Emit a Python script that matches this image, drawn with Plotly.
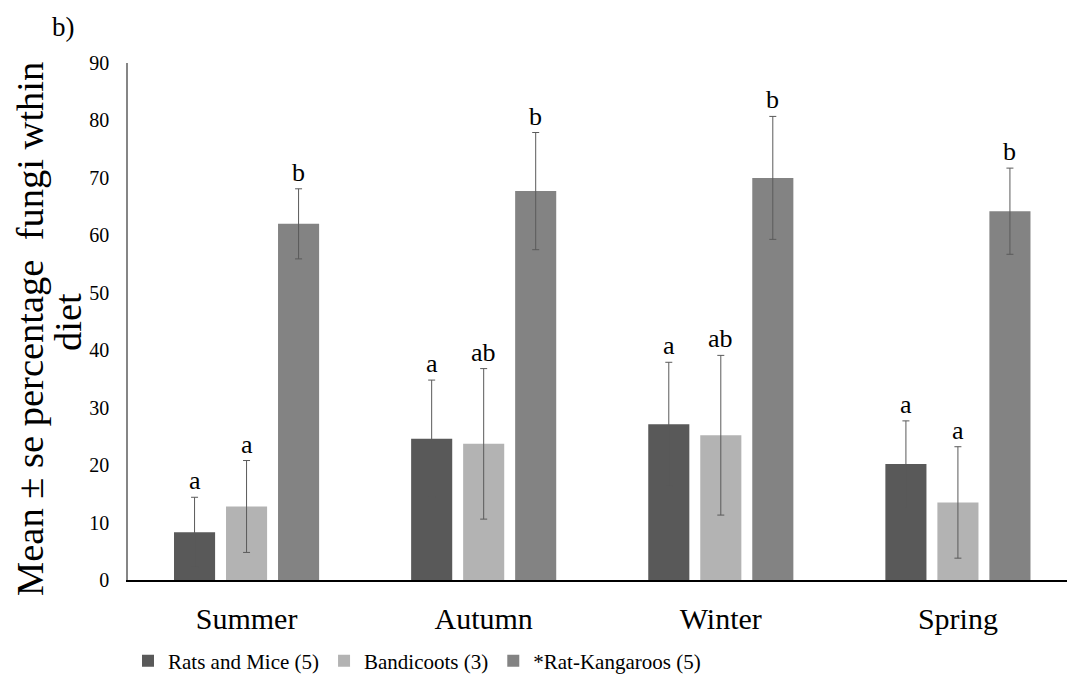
import plotly.graph_objects as go

seasons = ["Summer", "Autumn", "Winter", "Spring"]
series_names = ["Rats and Mice (5)", "Bandicoots (3)", "*Rat-Kangaroos (5)"]
rats_mean = [8.3, 24.6, 27.1, 20.2]
rats_se = [6.1, 10.2, 10.8, 7.5]
band_mean = [12.8, 23.7, 25.2, 13.5]
band_se = [8.0, 13.1, 13.9, 9.7]
rk_mean = [62.0, 67.7, 70.0, 64.2]
rk_se = [6.1, 10.2, 10.7, 7.5]
rats_letters = ["a", "a", "a", "a"]
band_letters = ["a", "ab", "ab", "a"]
rk_letters = ["b", "b", "b", "b"]
y_ticks = [0, 10, 20, 30, 40, 50, 60, 70, 80, 90]
y_title_line1 = "Mean ± se percentage  fungi wthin"
y_title_line2 = "diet"
panel_label = "b)"

colors = ["#595959", "#b3b3b3", "#838383"]
means = [rats_mean, band_mean, rk_mean]
ses = [rats_se, band_se, rk_se]
letters = [rats_letters, band_letters, rk_letters]

SERIF = "Liberation Serif, Times New Roman, serif"
BARGAP = 0.342
GROUPGAP = 0.21

# plot area in pixels
W, H = 1067, 684
L, R, T, B = 128, 0, 63, 104
PW, PH = W - L - R, H - T - B


def px_x(x):
    return (x - L) / PW


def px_y(y):
    return (H - B - y) / PH


fig = go.Figure()
for name, m, s, c in zip(series_names, means, ses, colors):
    fig.add_trace(go.Bar(
        x=seasons, y=m, name=name,
        marker=dict(color=c, line=dict(width=0)),
        error_y=dict(type="data", array=s, visible=True,
                     color="#5a5a5a", thickness=1, width=3.5),
    ))

slot = (1 - BARGAP) / 3
for j, (m, s, lab) in enumerate(zip(means, ses, letters)):
    for i in range(len(seasons)):
        fig.add_annotation(
            x=i + (j - 1) * slot, y=m[i] + s[i], xref="x", yref="y",
            text=lab[i], showarrow=False, yanchor="bottom", yshift=0,
            font=dict(family=SERIF, size=26, color="#000000"),
        )

fig.add_annotation(
    x=px_x(63), y=px_y(27), xref="paper", yref="paper", text=panel_label,
    showarrow=False, xanchor="center", yanchor="middle",
    font=dict(family=SERIF, size=27, color="#000000"),
)
fig.add_annotation(
    x=px_x(30), y=px_y(329), xref="paper", yref="paper", text=y_title_line1,
    showarrow=False, xanchor="center", yanchor="middle", textangle=-90,
    font=dict(family=SERIF, size=38.5, color="#000000"),
)
fig.add_annotation(
    x=px_x(68), y=px_y(322), xref="paper", yref="paper", text=y_title_line2,
    showarrow=False, xanchor="center", yanchor="middle", textangle=-90,
    font=dict(family=SERIF, size=38.5, color="#000000"),
)

fig.update_layout(
    width=W, height=H,
    margin=dict(l=L, r=R, t=T, b=B),
    paper_bgcolor="white", plot_bgcolor="white",
    barmode="group", bargap=BARGAP, bargroupgap=GROUPGAP,
    showlegend=True,
    legend=dict(
        orientation="h", x=0.0, xanchor="left", y=px_y(661), yanchor="middle",
        font=dict(family=SERIF, size=21, color="#000000"),
        bgcolor="rgba(0,0,0,0)",
        itemwidth=30, tracegroupgap=0, traceorder="normal",
    ),
    xaxis=dict(
        range=[-0.5, 3.46], showline=True, linecolor="#000000", linewidth=1.5,
        ticks="", showgrid=False, zeroline=False,
        tickfont=dict(family=SERIF, size=30, color="#000000"),
        ticklabelstandoff=11,
    ),
    yaxis=dict(
        range=[0, 90], tickvals=y_ticks, showline=True, linecolor="#868686",
        linewidth=1.5, ticks="", showgrid=False, zeroline=False,
        tickfont=dict(family=SERIF, size=20, color="#000000"),
        ticklabelstandoff=13,
    ),
)

fig.write_html("out.html")
